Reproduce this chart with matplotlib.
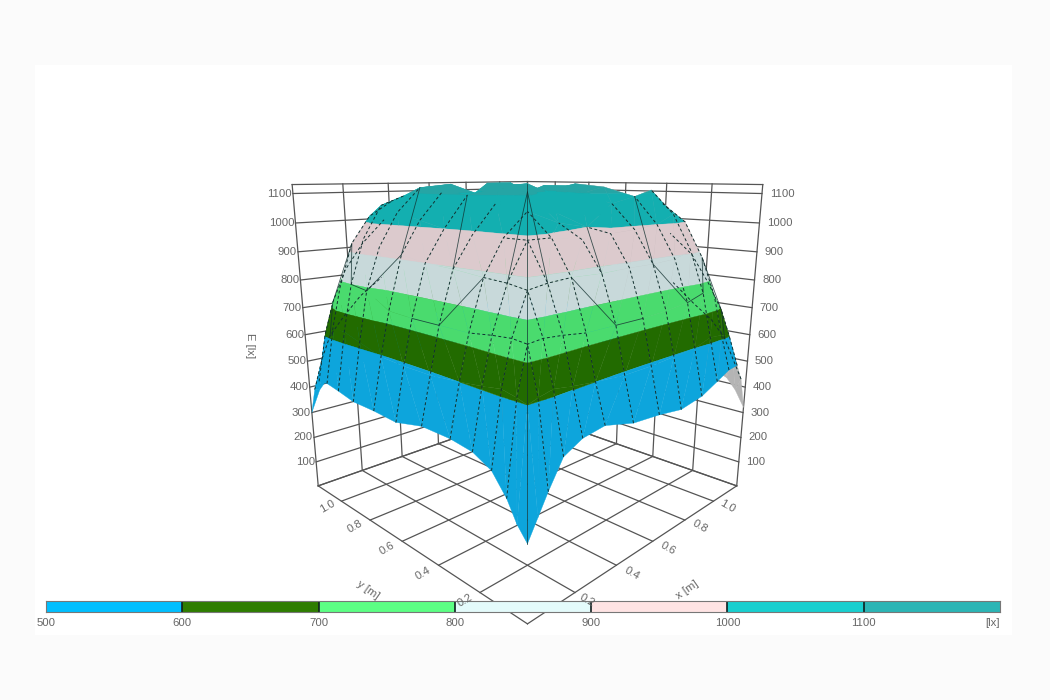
import numpy as np
import matplotlib
matplotlib.use('Agg')
import matplotlib.pyplot as plt
from matplotlib.patches import Rectangle
from mpl_toolkits.mplot3d import proj3d
from mpl_toolkits.mplot3d.art3d import Poly3DCollection

plt.rcParams['font.family'] = ['Liberation Sans', 'DejaVu Sans']

# mesh nodes in metres
grid_x = [0, .04, .08, .14, .22, .32, .46, .6, .73, .86, .96, 1.04, 1.10, 1.14, 1.18]
grid_y = [0, .04, .08, .14, .22, .32, .46, .6, .73, .86, .96, 1.04, 1.10, 1.14, 1.18]

# illuminance in lx, rows = y, columns = x
E = [
    [240, 300, 360, 440, 470, 480, 450, 440, 425, 440, 470, 495, 500, 440, 320],
    [280, 600, 610, 620, 610, 600, 590, 590, 595, 600, 620, 615, 600, 510, 380],
    [340, 610, 745, 750, 745, 735, 735, 735, 740, 750, 770, 750, 690, 580, 420],
    [400, 620, 750, 870, 880, 885, 882, 885, 885, 890, 910, 880, 780, 640, 440],
    [430, 610, 745, 880, 990, 990, 975, 985, 990, 1000, 1030, 1000, 880, 690, 450],
    [440, 600, 735, 885, 990, 1060, 1020, 1000, 1070, 1090, 1110, 1060, 950, 760, 450],
    [440, 590, 735, 895, 990, 1080, 1110, 1040, 1100, 1120, 1050, 1070, 980, 780, 450],
    [415, 590, 735, 900, 1000, 1100, 1120, 1130, 1050, 1130, 1090, 1080, 1000, 800, 450],
    [420, 595, 740, 915, 1020, 1110, 1050, 1125, 1130, 1090, 1120, 1090, 1010, 810, 445],
    [420, 620, 790, 930, 1040, 1120, 1130, 1090, 1120, 1050, 1120, 1090, 1010, 810, 440],
    [435, 640, 800, 950, 1060, 1090, 1120, 1050, 1130, 1130, 1090, 1060, 960, 760, 420],
    [445, 640, 780, 930, 1020, 1070, 1090, 1100, 1090, 1090, 1060, 1000, 860, 640, 400],
    [440, 610, 720, 830, 920, 1000, 1020, 1030, 1020, 1010, 950, 860, 720, 560, 380],
    [400, 510, 590, 650, 720, 780, 790, 800, 790, 770, 720, 640, 560, 460, 340],
    [300, 380, 420, 440, 450, 450, 450, 450, 445, 440, 420, 400, 380, 340, 300],
]

# colour bands on the surface
band_edges = [0, 600, 700, 800, 900, 1000, 1100, 2000]
band_colors = ['#0DA5DC', '#226B00', '#4ADB6E', '#C8D9DA', '#DCCACD', '#13AFB0', '#25A5A5']

# legend bar
legend_levels = [500, 600, 700, 800, 900, 1000, 1100]
legend_colors = ['#00BFFF', '#2E7D00', '#5CFF84', '#E4FBFB', '#FFE4E4', '#18CFCF', '#2BB5B5']

z_ticks = [100, 200, 300, 400, 500, 600, 700, 800, 900, 1000, 1100]
xy_ticks = [.2, .4, .6, .8, 1.0]
x_max = 1.18
y_max = 1.18
z_top = 1130

# solid mesh edges as (row, column) nodes, the other side is the mirror image
solid_paths = [
    [(9, 5), (8, 3)],
    [(7, 5), (6, 3)],
    [(6, 6), (4, 3)],
    [(13, 2), (12, 2), (11, 3), (10, 2), (9, 2), (8, 3)],
    [(7, 2), (6, 2), (5, 3)],
]


def clip(poly, level, keep_above):
    out = []
    for k in range(len(poly)):
        p, q = poly[k], poly[(k + 1) % len(poly)]
        p_in = p[2] >= level if keep_above else p[2] <= level
        q_in = q[2] >= level if keep_above else q[2] <= level
        if p_in:
            out.append(p)
        if p_in != q_in:
            t = (level - p[2]) / (q[2] - p[2])
            out.append((p[0] + t * (q[0] - p[0]), p[1] + t * (q[1] - p[1]), level))
    return out


fig = plt.figure(figsize=(10.5, 7), dpi=100, facecolor='#FBFBFB')
fig.patches.append(Rectangle((35 / 1050, 1 - 635 / 700), 977 / 1050, 570 / 700, transform=fig.transFigure,
                             facecolor='white', edgecolor='none', zorder=-1))

ax = fig.add_axes([(175 - 7) / 1050, -0.005, 2 / 3, 1], projection='3d', computed_zorder=False)
ax.patch.set_visible(False)
ax.set_xticks([])
ax.set_yticks([])
ax.set_zticks([])
ax.set_axis_off()
ax.set_xlim(0, x_max)
ax.set_ylim(0, y_max)
ax.set_zlim(0, z_top)
ax.set_box_aspect((1, 1, 0.99), zoom=0.75)
ax.view_init(elev=14.5, azim=-135)
ax.set_proj_type('persp', focal_length=0.175)
M = ax.get_proj()

wall = dict(color='#555555', lw=0.9, zorder=1)
for z in z_ticks + [0, z_top]:
    ax.plot([0, x_max], [y_max, y_max], [z, z], **wall)
    ax.plot([x_max, x_max], [0, y_max], [z, z], **wall)
for v in xy_ticks + [0, x_max]:
    ax.plot([v, v], [y_max, y_max], [0, z_top], **wall)
    ax.plot([x_max, x_max], [v, v], [0, z_top], **wall)
    ax.plot([v, v], [0, y_max], [0, 0], **wall)
    ax.plot([0, x_max], [v, v], [0, 0], **wall)

polys, cols = [], []
Z = np.array(E, dtype=float)
for j in range(len(grid_y) - 1):
    for i in range(len(grid_x) - 1):
        a = (grid_x[i], grid_y[j], Z[j, i])
        b = (grid_x[i + 1], grid_y[j], Z[j, i + 1])
        c = (grid_x[i + 1], grid_y[j + 1], Z[j + 1, i + 1])
        d = (grid_x[i], grid_y[j + 1], Z[j + 1, i])
        for tri in ([a, b, c], [a, c, d]):
            t = np.array(tri)
            u, v, _ = proj3d.proj_transform(t[:, 0], t[:, 1], t[:, 2], M)
            area = (u[1] - u[0]) * (v[2] - v[0]) - (u[2] - u[0]) * (v[1] - v[0])
            # the grey underside only shows at the right corner
            front = area > 0 or grid_y[j] > .5
            for k in range(len(band_colors)):
                piece = clip(clip(tri, band_edges[k], True), band_edges[k + 1], False)
                if len(piece) >= 3:
                    polys.append(piece)
                    cols.append(band_colors[k] if front else '#B4B4B4')

surf = Poly3DCollection(polys, facecolors=cols, edgecolors=cols, linewidths=0.25, zorder=2)
ax.add_collection3d(surf)

# hidden mesh lines come through dashed, only the rim is drawn
mesh = dict(color='#12302F', lw=0.7, ls=(0, (3, 2.5)), zorder=3)
for n in range(2, 14):
    ax.plot(grid_x[:6], [grid_y[n]] * 6, Z[n, :6], **mesh)
    ax.plot([grid_x[n]] * 6, grid_y[:6], Z[:6, n], **mesh)

solid = dict(color='#12302F', lw=0.6, alpha=0.8, zorder=3)
for path in solid_paths:
    ax.plot([grid_x[i] for j, i in path], [grid_y[j] for j, i in path], [Z[j, i] for j, i in path], **solid)
    ax.plot([grid_x[j] for j, i in path], [grid_y[i] for j, i in path], [Z[i, j] for j, i in path], **solid)
diag = range(9)
ax.plot([grid_x[k] for k in diag], [grid_y[k] for k in diag], [Z[k, k] for k in diag], **solid)

tick_style = dict(color='#666666', fontsize=8.2)


def label3d(x, y, z, s, **kw):
    # plain 2D text at the projected spot of a 3D point
    u, v, _ = proj3d.proj_transform(x, y, z, M)
    ax.text2D(u, v, s, transform=ax.transData, va='center', zorder=5, **tick_style, **kw)


for z in z_ticks:
    label3d(-.003, y_max + .003, z, str(z), ha='right')
    label3d(x_max + .02, -.02, z, str(z), ha='left')
for v in xy_ticks[1:]:
    label3d(-.06, v, 0, '%.1f' % v, rotation=30, ha='center')
    label3d(v, -.06, 0, '%.1f' % v, rotation=-30, ha='center')

# these sit on top of the legend bar in the original
fig.text(465 / 1050, 1 - 600 / 700, '0.2', rotation=30, ha='center', va='center', zorder=6, **tick_style)
fig.text(587 / 1050, 1 - 600 / 700, '0.2', rotation=-30, ha='center', va='center', zorder=6, **tick_style)
fig.text(368 / 1050, 1 - 590 / 700, 'y [m]', rotation=-35, ha='center', va='center', zorder=6, **tick_style)
fig.text(687 / 1050, 1 - 590 / 700, 'x [m]', rotation=35, ha='center', va='center', zorder=6, **tick_style)
fig.text(250 / 1050, 1 - 346 / 700, 'E [lx]', rotation=270, ha='center', va='center', zorder=6, **tick_style)

bar = fig.add_axes([46 / 1050, 1 - 612 / 700, 954 / 1050, 11 / 700], zorder=2)
bar.barh([0] * len(legend_levels), [100] * len(legend_levels), left=legend_levels, height=1,
         color=legend_colors, edgecolor='none')
bar.vlines(legend_levels[1:], -.5, .5, color='#102020', lw=1.2)
bar.set_xlim(500, 1200)
bar.set_ylim(-.5, .5)
bar.set_yticks([])
bar.set_xticks(legend_levels + [1200])
labels = bar.set_xticklabels([str(v) for v in legend_levels] + ['[lx]'], **tick_style)
labels[-1].set_ha('right')
bar.tick_params(axis='x', length=0, pad=4)
for s in bar.spines.values():
    s.set_color('#777777')
    s.set_linewidth(0.8)

fig.savefig('out.png', dpi=100, facecolor=fig.get_facecolor())
